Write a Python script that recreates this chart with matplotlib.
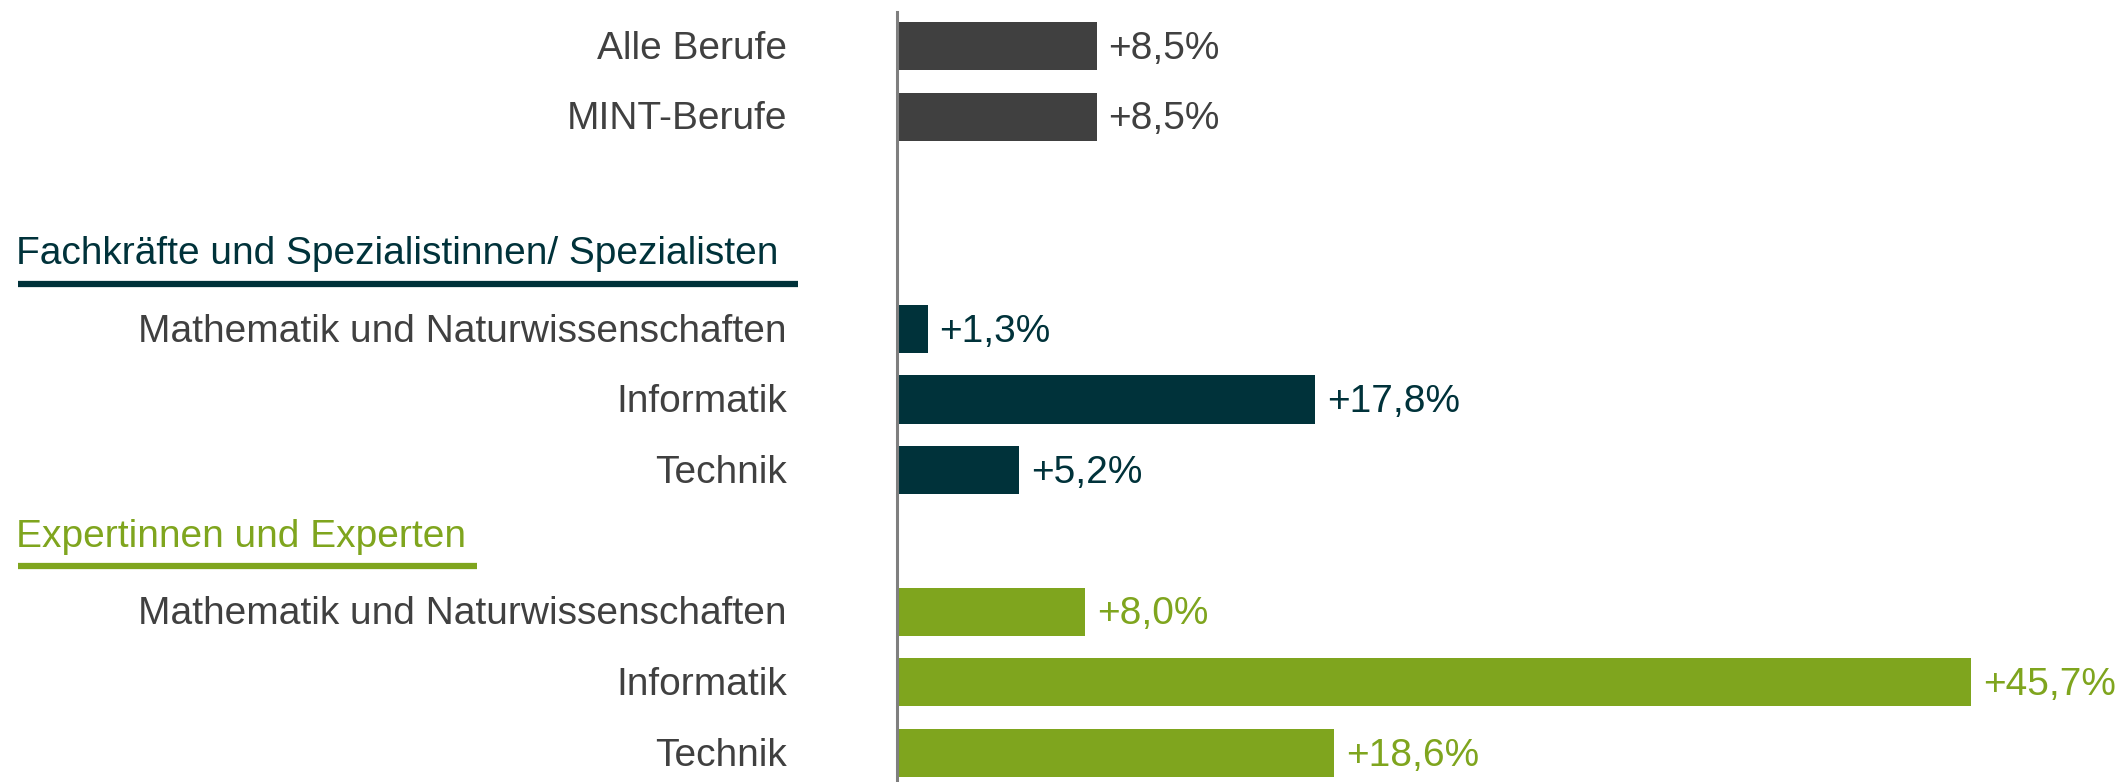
import matplotlib.pyplot as plt
from matplotlib.transforms import blended_transform_factory
from matplotlib.lines import Line2D

plt.rcParams['font.family'] = ['Liberation Sans', 'DejaVu Sans']

# data
top_labels = ["Alle Berufe", "MINT-Berufe"]
top_values = [8.5, 8.5]
fach_labels = ["Mathematik und Naturwissenschaften", "Informatik", "Technik"]
fach_values = [1.3, 17.8, 5.2]
exp_labels = ["Mathematik und Naturwissenschaften", "Informatik", "Technik"]
exp_values = [8.0, 45.7, 18.6]
heading_fach = "Fachkräfte und Spezialistinnen/ Spezialisten"
heading_exp = "Expertinnen und Experten"

grey = '#404040'
teal = '#00323a'
green = '#7fa51e'
text_grey = '#404040'

fig = plt.figure(figsize=(21.24, 7.82), dpi=100)
ax = fig.add_axes([897 / 2124, 0.0, 1175 / 2124, 770 / 782])

fs = 28
bh = 0.68

def fmt(v):
    return '+' + ('%.1f' % v).replace('.', ',') + '%'

label_tr = blended_transform_factory(fig.transFigure, ax.transData)

def draw_group(labels, values, start, color, val_color):
    ys = [start + i for i in range(len(values))]
    ax.barh(ys, values, height=bh, color=color)
    for y, v, lab in zip(ys, values, labels):
        ax.text(v + 0.5, y + 0.04, fmt(v), va='center', ha='left', fontsize=fs, color=val_color)
        ax.text(787 / 2124, y + 0.04, lab, va='center', ha='right', fontsize=fs,
                color=text_grey, transform=label_tr)

draw_group(top_labels, top_values, 0, grey, grey)
draw_group(fach_labels, fach_values, 4, teal, teal)
draw_group(exp_labels, exp_values, 8, green, green)

# headings with underline
def heading(txt, y, color, x_end):
    ax.text(16 / 2124, y + 0.09, txt, va='baseline', ha='left', fontsize=fs,
            color=color, transform=label_tr)
    ax.add_line(Line2D([18 / 2124, x_end / 2124], [y + 0.36, y + 0.36],
                       transform=label_tr, color=color, linewidth=4.5,
                       solid_capstyle='butt', clip_on=False))

heading(heading_fach, 3, teal, 798)
heading(heading_exp, 7, green, 477)

ax.set_xlim(0, 50)
ax.set_ylim(10.41, -0.48)
for s in ['top', 'right', 'bottom']:
    ax.spines[s].set_visible(False)
ax.spines['left'].set_color('#7f7f7f')
ax.spines['left'].set_linewidth(2.2)
ax.set_xticks([])
ax.set_yticks([])
ax.patch.set_alpha(0)

fig.savefig('out.png', dpi=100)
